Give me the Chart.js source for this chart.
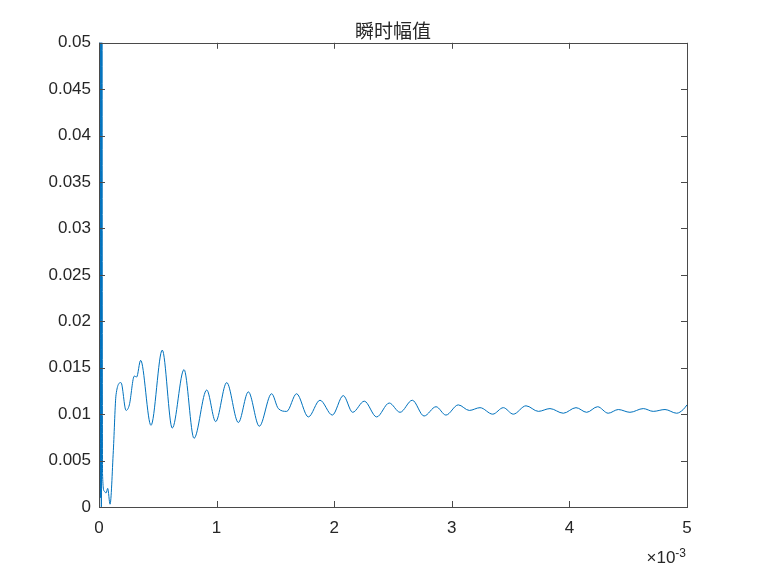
<!DOCTYPE html>
<html>
<head>
<meta charset="utf-8">
<script src="https://cdn.jsdelivr.net/npm/chart.js@4.4.1/dist/chart.umd.min.js"></script>
<style>
  html, body { margin: 0; padding: 0; background: #fff; }
  #wrap { width: 760px; height: 570px; }
</style>
</head>
<body>
<div id="wrap"><canvas id="chart"></canvas></div>
<script>
// time in units of 1e-3 s, amplitude values
const timeMs = [
  0, 0.004, 0.008, 0.012, 0.016, 0.020, 0.024, 0.030, 0.045, 0.060, 0.074, 0.094,
  0.122, 0.145, 0.187, 0.230, 0.258, 0.300, 0.320, 0.354, 0.442, 0.538, 0.623,
  0.723, 0.808, 0.916, 0.992, 1.086, 1.185, 1.270, 1.363, 1.468, 1.525, 1.596,
  1.680, 1.780, 1.879, 1.984, 2.077, 2.157, 2.256, 2.361, 2.468, 2.560, 2.664,
  2.764, 2.866, 2.950, 3.055, 3.149, 3.240, 3.348, 3.438, 3.523, 3.631, 3.736,
  3.835, 3.948, 4.056, 4.147, 4.240, 4.330, 4.416, 4.515, 4.628, 4.713, 4.813,
  4.912, 4.968, 5.000
];
const amplitude = [
  0.12, 0.0, 0.11, 0.001, 0.09, 0.0, 0.08, 0.0036, 0.0017, 0.0015, 0.0020, 0.0003,
  0.0061, 0.0121, 0.0134, 0.0104, 0.0110, 0.0141, 0.0140, 0.0158, 0.0088, 0.0169, 0.0085,
  0.0148, 0.0074, 0.0126, 0.0092, 0.0134, 0.0091, 0.0124, 0.0087, 0.0122, 0.0106, 0.0103,
  0.0122, 0.0097, 0.0115, 0.0099, 0.0120, 0.0102, 0.0114, 0.0097, 0.0112, 0.0102, 0.0115,
  0.0098, 0.0108, 0.0099, 0.0110, 0.0104, 0.0107, 0.0100, 0.0107, 0.0100, 0.0109, 0.0103,
  0.0106, 0.0101, 0.0107, 0.0102, 0.0108, 0.0101, 0.0105, 0.0102, 0.0106, 0.0103, 0.0105,
  0.0101, 0.0105, 0.0110
];
const xTicks = [0, 1, 2, 3, 4, 5];
const yTicks = [0, 0.005, 0.01, 0.015, 0.02, 0.025, 0.03, 0.035, 0.04, 0.045, 0.05];

const axisColor = '#262626';
const tickFont = { family: 'Liberation Sans, Arial, sans-serif', size: 17 };

const points = timeMs.map((t, i) => ({ x: t, y: amplitude[i] }));

// box around the plot with inward ticks on all four sides, plus the x10^-3 label
const matlabAxes = {
  id: 'matlabAxes',
  afterDraw(chart) {
    const ctx = chart.ctx;
    const a = chart.chartArea;
    const xs = chart.scales.x;
    const ys = chart.scales.y;
    const len = 6;
    ctx.save();
    ctx.strokeStyle = '#4a4a4a';
    ctx.lineWidth = 1;
    ctx.strokeRect(Math.round(a.left) + 0.5, Math.round(a.top) + 0.5,
      Math.round(a.right - a.left), Math.round(a.bottom - a.top));
    ctx.beginPath();
    xs.ticks.forEach(t => {
      const px = Math.round(xs.getPixelForValue(t.value)) + 0.5;
      ctx.moveTo(px, a.bottom); ctx.lineTo(px, a.bottom - len);
      ctx.moveTo(px, a.top); ctx.lineTo(px, a.top + len);
    });
    ys.ticks.forEach(t => {
      const py = Math.round(ys.getPixelForValue(t.value)) + 0.5;
      ctx.moveTo(a.left, py); ctx.lineTo(a.left + len, py);
      ctx.moveTo(a.right, py); ctx.lineTo(a.right - len, py);
    });
    ctx.stroke();

    ctx.fillStyle = axisColor;
    ctx.textAlign = 'right';
    ctx.textBaseline = 'alphabetic';
    ctx.font = '12px Liberation Sans, Arial, sans-serif';
    ctx.fillText('-3', a.right - 1, 557);
    const supW = ctx.measureText('-3').width;
    ctx.font = '17px Liberation Sans, Arial, sans-serif';
    ctx.fillText('\u00d710', a.right - 1 - supW, 563);
    ctx.restore();
  }
};

new Chart(document.getElementById('chart').getContext('2d'), {
  type: 'line',
  data: {
    datasets: [{
      label: '瞬时幅值',
      data: points,
      borderColor: '#0072BD',
      borderWidth: 1,
      pointRadius: 0,
      fill: false,
      cubicInterpolationMode: 'monotone'
    }]
  },
  options: {
    responsive: true,
    maintainAspectRatio: false,
    animation: false,
    layout: { padding: { left: 0, right: 73, top: 0, bottom: 0 } },
    plugins: {
      legend: { display: false },
      tooltip: { enabled: false },
      title: {
        display: true,
        fullSize: false,
        text: '瞬时幅值',
        color: axisColor,
        font: { family: 'Noto Sans CJK SC', size: 19, weight: 'normal' },
        padding: { top: 19, bottom: 1 }
      }
    },
    scales: {
      x: {
        type: 'linear',
        min: 0,
        max: 5,
        afterBuildTicks: s => { s.ticks = xTicks.map(v => ({ value: v })); },
        afterFit: s => { s.height = 63; },
        grid: { display: false, drawTicks: false },
        border: { display: false },
        ticks: {
          color: axisColor,
          font: tickFont,
          padding: 11,
          maxRotation: 0,
          callback: v => String(v)
        }
      },
      y: {
        type: 'linear',
        min: 0,
        max: 0.05,
        afterBuildTicks: s => { s.ticks = yTicks.map(v => ({ value: v })); },
        afterFit: s => { s.width = 99; },
        grid: { display: false, drawTicks: false },
        border: { display: false },
        ticks: {
          color: axisColor,
          font: tickFont,
          padding: 8,
          callback: v => String(+v.toFixed(3))
        }
      }
    }
  },
  plugins: [matlabAxes]
});
</script>
</body>
</html>
